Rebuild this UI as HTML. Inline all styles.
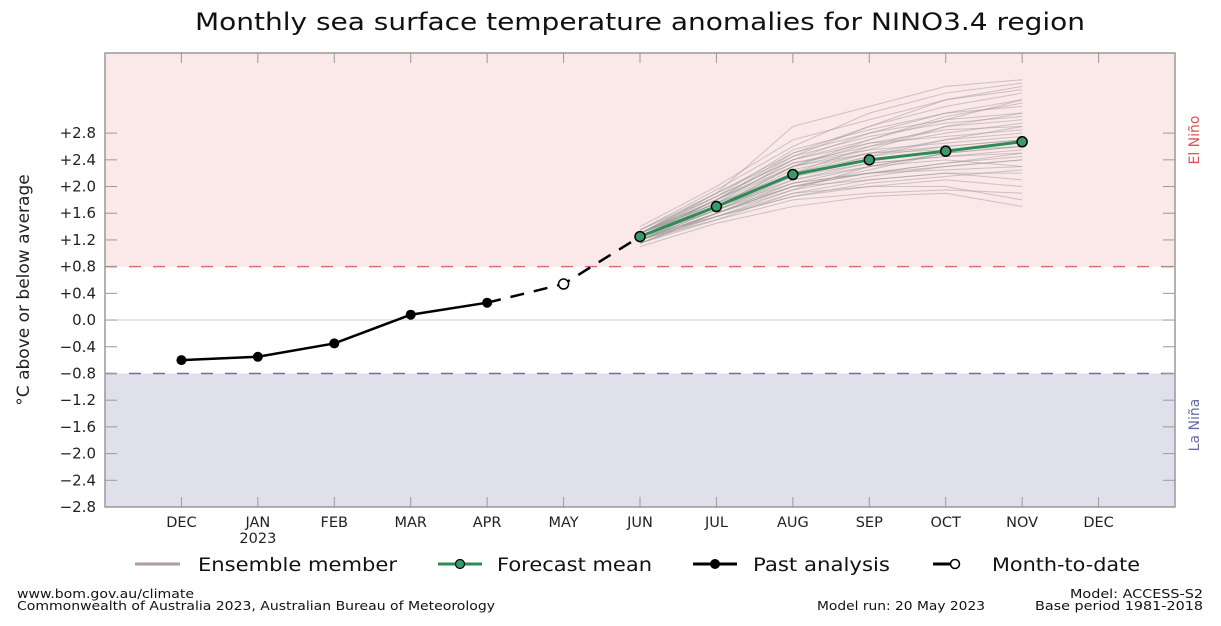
<!DOCTYPE html>
<html><head><meta charset="utf-8"><style>
body{margin:0;background:#fff;width:1221px;height:622px;overflow:hidden;font-family:"DejaVu Sans","Liberation Sans",sans-serif}
svg text{font-family:"DejaVu Sans","Liberation Sans",sans-serif}
</style></head><body>
<svg id="chart" width="1221" height="622" xmlns="http://www.w3.org/2000/svg"></svg>
<script>
const months=["DEC","JAN","FEB","MAR","APR","MAY","JUN","JUL","AUG","SEP","OCT","NOV","DEC"];
const yTicks=[-2.8,-2.4,-2.0,-1.6,-1.2,-0.8,-0.4,0.0,0.4,0.8,1.2,1.6,2.0,2.4,2.8];
const pastValues=[-0.6,-0.55,-0.35,0.08,0.26];
const monthToDate=0.54;
const forecastMean=[1.25,1.7,2.18,2.40,2.53,2.67];
const ensemble=[
[1.3,1.9,2.9,3.2,3.5,3.6],[1.35,1.95,2.6,3.1,3.4,3.55],[1.25,1.8,2.5,2.9,3.2,3.4],[1.2,1.7,2.3,2.7,3.0,3.3],
[1.3,1.85,2.4,2.8,3.1,3.2],[1.15,1.6,2.0,2.2,2.3,2.4],[1.2,1.5,1.8,1.9,1.95,1.9],[1.25,1.55,1.85,2.0,2.0,1.8],
[1.1,1.45,1.7,1.85,1.9,1.7],[1.3,1.75,2.2,2.5,2.6,2.7],[1.25,1.7,2.1,2.3,2.5,2.6],[1.2,1.65,2.15,2.45,2.7,2.9],
[1.35,1.9,2.5,2.8,3.0,3.1],[1.3,1.8,2.35,2.6,2.8,2.95],[1.2,1.6,2.0,2.2,2.35,2.5],[1.15,1.55,1.9,2.1,2.2,2.2],
[1.25,1.7,2.2,2.6,2.9,3.0],[1.3,1.75,2.3,2.5,2.7,2.8],[1.2,1.6,2.05,2.3,2.4,2.3],[1.25,1.65,2.1,2.35,2.45,2.55],
[1.4,2.0,2.7,3.0,3.3,3.5],[1.3,1.8,2.45,2.9,3.3,3.45],[1.2,1.65,2.0,2.1,2.2,2.1],[1.15,1.5,1.9,2.0,2.1,2.0],
[1.25,1.7,2.25,2.5,2.55,2.6],[1.3,1.75,2.15,2.35,2.45,2.5],[1.2,1.7,2.3,2.65,2.75,2.85],[1.25,1.75,2.4,2.7,3.05,3.25],
[1.35,1.85,2.4,2.65,2.85,2.9],[1.2,1.6,1.95,2.15,2.3,2.4],[1.15,1.6,2.0,2.25,2.5,2.7],[1.3,1.7,2.05,2.2,2.25,2.3],
[1.25,1.8,2.35,2.55,2.65,2.75],[1.2,1.55,1.85,2.05,2.15,2.25],[1.3,1.85,2.55,2.85,3.1,3.3],[1.25,1.7,2.2,2.45,2.6,2.7],
[1.3,1.8,2.3,2.55,2.9,3.1],[1.2,1.55,1.95,2.3,2.5,2.6],[1.25,1.65,2.05,2.2,2.35,2.45],[1.3,1.9,2.45,2.75,2.95,3.05]
];
const S="http://www.w3.org/2000/svg";
const svg=document.getElementById("chart");
const L=105,R=1175,T=53,B=507,Y0=-2.8,Y1=4.0;
function xs(i){return L+(i+1)*(R-L)/14;}
function ys(v){return B-(v-Y0)/(Y1-Y0)*(B-T);}
function el(t,a,p){const e=document.createElementNS(S,t);for(const k in a)e.setAttribute(k,a[k]);(p||svg).appendChild(e);return e;}
let e;
e=el("rect",{x:L,y:T,width:R-L,height:ys(0.8)-T,fill:"#fbe8e8"});


e=el("rect",{x:L,y:ys(-0.8),width:R-L,height:B-ys(-0.8),fill:"#e0e0ec"});


e=el("line",{x1:L,x2:R,y1:ys(0),y2:ys(0),stroke:"#ccc","stroke-width":1});


e=el("line",{x1:L,x2:R,y1:ys(0.8),y2:ys(0.8),stroke:"#e07070","stroke-width":1.5,"stroke-dasharray":"12,12"});


e=el("line",{x1:L,x2:R,y1:ys(-0.8),y2:ys(-0.8),stroke:"#707090","stroke-width":1.5,"stroke-dasharray":"12,12"});


e=el("rect",{x:L,y:T,width:R-L,height:B-T,fill:"none",stroke:"#999","stroke-width":1.5});


yTicks.forEach(v=>{
 const y=ys(v);
 e=el("line",{x1:L,x2:L+12,y1:y,y2:y,stroke:"#999"});
 
 
 e=el("line",{x1:R-12,x2:R,y1:y,y2:y,stroke:"#999"});
 
 
 const t=el("text",{x:96,y:y+5,"text-anchor":"end","font-size":15,fill:"#222"});
 t.textContent=(v>0?"+":v<0?"\u2212":"")+Math.abs(v).toFixed(1);
 
 
});
months.forEach((m,i)=>{
 const x=xs(i);
 e=el("line",{x1:x,x2:x,y1:B-10,y2:B,stroke:"#999"});
 
 
 e=el("line",{x1:x,x2:x,y1:T,y2:T+10,stroke:"#999"});
 
 
 const t=el("text",{x:x,y:527,"text-anchor":"middle","font-size":14.5,fill:"#222"});
 t.textContent=m;
 
 
});
e=el("text",{x:xs(1),y:543,"text-anchor":"middle","font-size":14.5,fill:"#222"});e.textContent="2023";


ensemble.forEach(m=>{
 const p=el("polyline",{points:m.map((v,j)=>xs(6+j)+","+ys(v)).join(" "),fill:"none",stroke:"#999","stroke-opacity":0.5,"stroke-width":1});
 
 
});
e=el("polyline",{points:[xs(4)+","+ys(pastValues[4]),xs(5)+","+ys(monthToDate),xs(6)+","+ys(forecastMean[0])].join(" "),fill:"none",stroke:"#000","stroke-width":2.5,"stroke-dasharray":"14,10"});


e=el("polyline",{points:pastValues.map((v,i)=>xs(i)+","+ys(v)).join(" "),fill:"none",stroke:"#000","stroke-width":2.5});


pastValues.forEach((v,i)=>{const c=el("circle",{cx:xs(i),cy:ys(v),r:5,fill:"#000"});
 
 });
e=el("circle",{cx:xs(5),cy:ys(monthToDate),r:5,fill:"#fff",stroke:"#000","stroke-width":1.5});


e=el("polyline",{points:forecastMean.map((v,j)=>xs(6+j)+","+ys(v)).join(" "),fill:"none",stroke:"#2e8b57","stroke-width":3});


forecastMean.forEach((v,j)=>{const c=el("circle",{cx:xs(6+j),cy:ys(v),r:5,fill:"#3a9a68",stroke:"#000","stroke-width":1.5});
 
 });
function txt(x,y,s,a,name){const t=el("text",Object.assign({x:x,y:y},a));t.textContent=s;return t;}
txt(195,30,"Monthly sea surface temperature anomalies for NINO3.4 region",{"font-size":24,fill:"#111",textLength:890,lengthAdjust:"spacingAndGlyphs"},"chart-title");
txt(0,0,"\u00B0C above or below average",{"font-size":17,fill:"#222",transform:"translate(29,290) rotate(-90)","text-anchor":"middle"},"y-axis-title");
txt(0,0,"El Niño",{"font-size":14,fill:"#e05050",transform:"translate(1199,140) rotate(-90)","text-anchor":"middle"},"el-nino-label");
txt(0,0,"La Niña",{"font-size":14,fill:"#6a6aa8",transform:"translate(1199,425) rotate(-90)","text-anchor":"middle"},"la-nina-label");
// legend
e=el("line",{x1:135,x2:180,y1:564,y2:564,stroke:"#b09aa0","stroke-width":3});
txt(198,571,"Ensemble member",{"font-size":19,fill:"#111",textLength:199,lengthAdjust:"spacingAndGlyphs"},"legend-ensemble");
e=el("line",{x1:438,x2:482,y1:564,y2:564,stroke:"#2e8b57","stroke-width":3});
e=el("circle",{cx:460,cy:564,r:4.5,fill:"#3a9a68",stroke:"#000","stroke-width":1.2});
txt(497,571,"Forecast mean",{"font-size":19,fill:"#111",textLength:155,lengthAdjust:"spacingAndGlyphs"},"legend-forecast");
e=el("line",{x1:693,x2:737,y1:564,y2:564,stroke:"#000","stroke-width":3});
e=el("circle",{cx:715,cy:564,r:5,fill:"#000"});
txt(753,571,"Past analysis",{"font-size":19,fill:"#111",textLength:137,lengthAdjust:"spacingAndGlyphs"},"legend-past");
e=el("line",{x1:933,x2:950,y1:564,y2:564,stroke:"#000","stroke-width":3});
e=el("circle",{cx:955,cy:564,r:4.5,fill:"#fff",stroke:"#000","stroke-width":1.5});
txt(992,571,"Month-to-date",{"font-size":19,fill:"#111",textLength:148,lengthAdjust:"spacingAndGlyphs"},"legend-mtd");
txt(17,598,"www.bom.gov.au/climate",{"font-size":12,fill:"#111",textLength:177,lengthAdjust:"spacingAndGlyphs"},"footer-url");
txt(17,610,"Commonwealth of Australia 2023, Australian Bureau of Meteorology",{"font-size":12,fill:"#111",textLength:478,lengthAdjust:"spacingAndGlyphs"},"footer-copyright");
txt(817,610,"Model run: 20 May 2023",{"font-size":12,fill:"#111",textLength:168,lengthAdjust:"spacingAndGlyphs"},"footer-model-run");
txt(1070,598,"Model: ACCESS-S2",{"font-size":12,fill:"#111",textLength:133,lengthAdjust:"spacingAndGlyphs"},"footer-model");
txt(1035,610,"Base period 1981-2018",{"font-size":12,fill:"#111",textLength:168,lengthAdjust:"spacingAndGlyphs"},"footer-base-period");
</script>
</body></html>
